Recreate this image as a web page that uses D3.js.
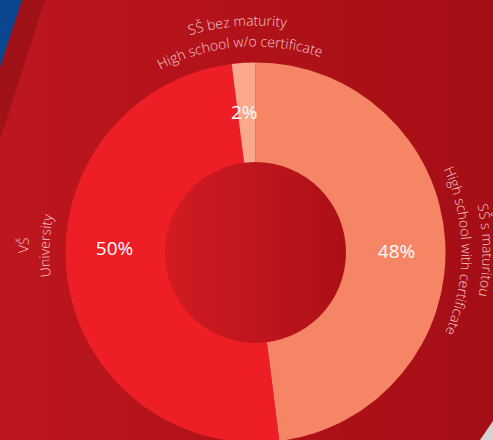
<!DOCTYPE html>
<html>
<head>
<meta charset="utf-8">
<script src="https://cdn.jsdelivr.net/npm/d3@7"></script>
<style>
  html, body { margin: 0; padding: 0; background: #b3131b; }
  svg { display: block; }
</style>
</head>
<body>
<div id="chart"></div>
<script>
// Education shares (Czech + English labels)
const categoriesCz = ['SŠ s maturitou', 'VŠ', 'SŠ bez maturity'];
const categoriesEn = ['High school with certificate', 'University', 'High school w/o certificate'];
const shares = [48, 50, 2];

const sliceColors = ['#f58565', '#ed1e26', '#fba88e'];

const width = 493;
const height = 440;
const cx = 255.5;
const cy = 252.5;
const outerR = 190;
const innerR = 90.5;

const svg = d3.select('#chart')
  .append('svg')
  .attr('width', width)
  .attr('height', height);

const defs = svg.append('defs');

// background gradient
const bgGrad = defs.append('linearGradient')
  .attr('id', 'bg-grad')
  .attr('x1', '0%').attr('x2', '100%').attr('y1', '0%').attr('y2', '0%');
bgGrad.append('stop').attr('offset', '0%').attr('stop-color', '#bd161e');
bgGrad.append('stop').attr('offset', '100%').attr('stop-color', '#a50e15');

// hole gradient
const holeGrad = defs.append('linearGradient')
  .attr('id', 'hole-grad')
  .attr('x1', '0%').attr('x2', '100%').attr('y1', '0%').attr('y2', '0%');
holeGrad.append('stop').attr('offset', '0%').attr('stop-color', '#d31b23');
holeGrad.append('stop').attr('offset', '100%').attr('stop-color', '#ab1016');

// Background
svg.append('rect')
  .attr('width', width)
  .attr('height', height)
  .attr('fill', 'url(#bg-grad)');

svg.append('polygon')
  .attr('points', '0,0 45,0 0,140')
  .attr('fill', '#a01118');

svg.append('polygon')
  .attr('points', '0,0 22,0 0,67')
  .attr('fill', '#0b4690');

svg.append('polygon')
  .attr('points', `${width},421 480,${height} ${width},${height}`)
  .attr('fill', '#d3d3d3');

// Donut
const pie = d3.pie().sort(null).value(d => d);
const arcs = pie(shares);

const arc = d3.arc()
  .innerRadius(0)
  .outerRadius(outerR);

const chart = svg.append('g')
  .attr('transform', `translate(${cx},${cy})`);

chart.selectAll('path.slice')
  .data(arcs)
  .enter()
  .append('path')
  .attr('class', 'slice')
  .attr('fill', (d, i) => sliceColors[i])
  .attr('d', arc);

chart.append('circle')
  .attr('r', innerR)
  .attr('fill', 'url(#hole-grad)');

// label angle nudges (degrees) relative to slice middle
const labelShift = [3, 9, -1];
const labelAngle = (d, i) => (d.startAngle + d.endAngle) / 2 * 180 / Math.PI + labelShift[i];

// Percent labels
const pctR = 141;
chart.selectAll('text.pct')
  .data(arcs)
  .enter()
  .append('text')
  .attr('class', 'pct')
  .attr('x', (d, i) => pctR * Math.sin(labelAngle(d, i) * Math.PI / 180))
  .attr('y', (d, i) => -pctR * Math.cos(labelAngle(d, i) * Math.PI / 180))
  .attr('dy', '0.35em')
  .attr('text-anchor', 'middle')
  .attr('font-family', 'Open Sans, sans-serif')
  .attr('font-size', '19px')
  .attr('fill', '#ffffff')
  .text(d => `${d.data}%`);

// Curved category labels: circles starting at bottom, running clockwise
function circlePath(r) {
  return `M0,${r} A${r},${r} 0 1,1 0,${-r} A${r},${r} 0 1,1 0,${r}`;
}

const labelRadii = [227, 206];
labelRadii.forEach((r, k) => {
  defs.append('path')
    .attr('id', `label-path-${k}`)
    .attr('d', circlePath(r))
    .attr('transform', `translate(${cx},${cy})`);
});

const labelLines = [categoriesCz, categoriesEn];
labelLines.forEach((names, k) => {
  const r = labelRadii[k];
  const circ = 2 * Math.PI * r;
  svg.selectAll(`text.cat-${k}`)
    .data(arcs)
    .enter()
    .append('text')
    .attr('class', `cat-${k}`)
    .attr('font-family', 'Open Sans, sans-serif')
    .attr('font-weight', 300)
    .attr('font-size', '14px')
    .attr('fill', '#f3c8ca')
    .append('textPath')
    .attr('href', `#label-path-${k}`)
    .attr('text-anchor', 'middle')
    .attr('startOffset', (d, i) => ((labelAngle(d, i) - 180 + 360) % 360) / 360 * circ)
    .text((d, i) => names[i]);
});
</script>
</body>
</html>
